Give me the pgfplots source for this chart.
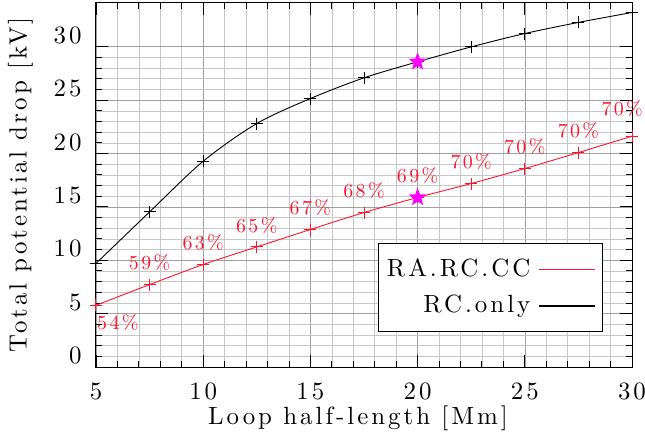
\documentclass[border=0pt]{standalone}
\usepackage{fontspec}
\setmainfont{lmroman10-regular}[Extension=.otf, LetterSpace=12]
\usepackage{pgfplots}
\pgfplotsset{compat=1.18}

\definecolor{dropred}{RGB}{255,20,45}
\definecolor{starmag}{RGB}{255,0,255}

% filled five-pointed star
\pgfdeclareplotmark{fstar}{%
  \pgfpathmoveto{\pgfqpointpolar{90}{\pgfplotmarksize}}%
  \pgfpathlineto{\pgfqpointpolar{126}{0.42\pgfplotmarksize}}%
  \pgfpathlineto{\pgfqpointpolar{162}{\pgfplotmarksize}}%
  \pgfpathlineto{\pgfqpointpolar{198}{0.42\pgfplotmarksize}}%
  \pgfpathlineto{\pgfqpointpolar{234}{\pgfplotmarksize}}%
  \pgfpathlineto{\pgfqpointpolar{270}{0.42\pgfplotmarksize}}%
  \pgfpathlineto{\pgfqpointpolar{306}{\pgfplotmarksize}}%
  \pgfpathlineto{\pgfqpointpolar{342}{0.42\pgfplotmarksize}}%
  \pgfpathlineto{\pgfqpointpolar{18}{\pgfplotmarksize}}%
  \pgfpathlineto{\pgfqpointpolar{54}{0.42\pgfplotmarksize}}%
  \pgfpathclose
  \pgfusepathqfill
}

% total potential drop [kV] versus loop half-length [Mm]
\pgfplotstableread{
L     V
5     9.70
7.5   14.53
10    19.28
12.5  22.81
15    25.15
17.5  27.09
20    28.59
22.5  29.99
25    31.24
27.5  32.28
30    33.21
}\rconly

\pgfplotstableread{
L     V      p
5     5.78   54
7.5   7.72   59
10    9.60   63
12.5  11.25  65
15    12.88  67
17.5  14.47  68
20    15.88  69
22.5  17.19  70
25    18.59  70
27.5  20.09  70
30    21.62  70
}\rarccc

\begin{document}
\fontsize{25}{29}\selectfont
\begin{tikzpicture}
\begin{axis}[
  name=ax,
  scale only axis, width=536bp, height=364bp,
  xmin=5, xmax=30, ymin=0, ymax=34.1,
  xtick={5,10,...,30}, minor x tick num=4,
  ytick={0,5,...,30}, minor y tick num=4,
  tick align=inside,
  major tick length=12bp, minor tick length=6bp,
  grid=both,
  major grid style={gray!75, line width=0.6bp},
  minor grid style={gray!45, line width=0.6bp},
  axis line style={line width=1bp},
  every tick/.style={black, line width=0.9bp},
  /pgf/number format/assume math mode=true,
  xticklabel style={yshift=-7bp},
  yticklabel style={xshift=-6bp, yshift=11.5bp},
  xlabel={Loop half-length [Mm]},
  ylabel={Total potential drop [kV]},
  xlabel style={yshift=11bp, xshift=-6bp},
  ylabel style={yshift=4bp},
  legend style={at={(rel axis cs:0.946,0.34)}, anchor=north east,
    draw=black, line width=0.9bp, fill=white,
    inner xsep=7bp, inner ysep=13bp, row sep=11bp, column sep=6bp},
  legend cell align=right,
  legend plot pos=right,
  legend image code/.code={\draw[#1, line width=1.3bp] (0bp,0bp) -- (56bp,0bp);},
]
\addplot[dropred, line width=0.9bp, smooth, mark=+, mark size=6bp,
  mark options={line width=1bp}] table[x=L, y=V] {\rarccc};
\addlegendentry{RA.RC.CC}
\addplot[black, line width=0.9bp, smooth, mark=+, mark size=6bp,
  mark options={line width=1bp}] table[x=L, y=V] {\rconly};
\addlegendentry{RC.only}

% share of the drop, written beside the red points
\addplot[forget plot, draw=none, point meta=explicit symbolic,
  nodes near coords={\pgfplotspointmeta\%},
  nodes near coords style={dropred, anchor=south, yshift=5bp, font=\fontsize{20}{24}\selectfont}]
  coordinates {(7.5,7.72)[59] (10,9.60)[63] (12.5,11.25)[65] (15,12.88)[67]
               (17.5,14.47)[68] (20,15.88)[69] (22.5,17.19)[70] (25,18.59)[70]
               (27.5,20.09)[70]};
\addplot[forget plot, draw=none, point meta=explicit symbolic,
  nodes near coords={\pgfplotspointmeta\%},
  nodes near coords style={dropred, anchor=north west, xshift=1bp, yshift=-9bp, inner sep=0pt, font=\fontsize{20}{24}\selectfont}]
  coordinates {(5,5.78)[54]};
\addplot[forget plot, draw=none, point meta=explicit symbolic,
  nodes near coords={\pgfplotspointmeta\%},
  nodes near coords style={dropred, anchor=south east, xshift=11bp, yshift=19bp, inner sep=0pt, font=\fontsize{20}{24}\selectfont}]
  coordinates {(30,21.62)[70]};

\addplot[forget plot, only marks, mark=fstar, mark size=9.5bp, color=starmag]
  coordinates {(20,28.59) (20,15.88)};
\end{axis}
\pgfresetboundingbox
\path ([xshift=-96bp,yshift=-67.3bp]ax.south west) rectangle ([xshift=13bp,yshift=3bp]ax.north east);
\end{tikzpicture}
\end{document}
